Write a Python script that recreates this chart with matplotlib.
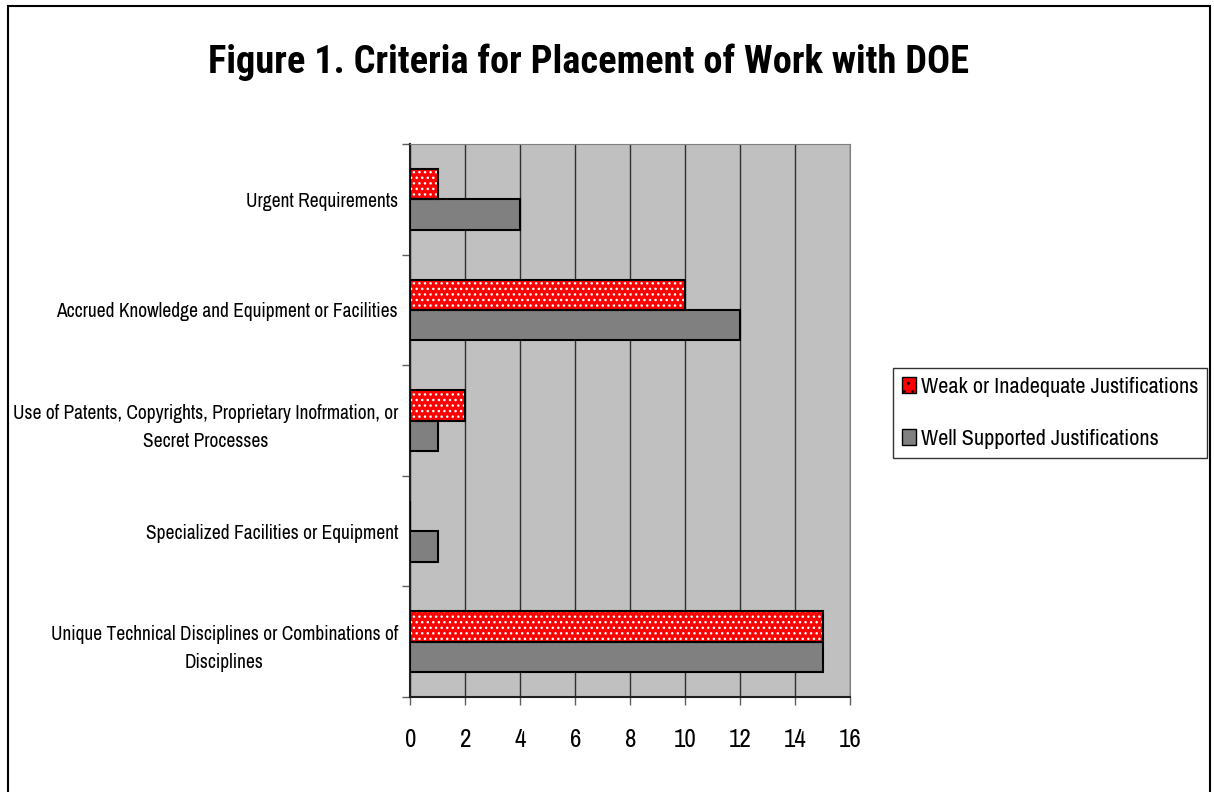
import matplotlib
matplotlib.use("Agg")
import matplotlib.pyplot as plt
import matplotlib.patches as mpatches
import numpy as np

plt.rcParams['font.family'] = ['Archivo Narrow', 'Liberation Sans', 'DejaVu Sans']

# data
categories = [
    "Urgent Requirements",
    "Accrued Knowledge and Equipment or Facilities",
    "Use of Patents, Copyrights, Proprietary Inofrmation, or\nSecret Processes",
    "Specialized Facilities or Equipment",
    "Unique Technical Disciplines or Combinations of\nDisciplines",
]
weak = [1, 10, 2, 0, 15]
well = [4, 12, 1, 1, 15]
series_names = ["Weak or Inadequate Justifications", "Well Supported Justifications"]
x_ticks = list(range(0, 17, 2))

fig = plt.figure(figsize=(12.14, 7.92), dpi=100)
ax = fig.add_axes([0.3381, 0.12, 0.3621, 0.698])

# outer frame around whole chart
fig.patches.append(mpatches.Rectangle((8 / 1214, -0.01), 1202 / 1214, 1 - 6 / 792 + 0.01,
                                      transform=fig.transFigure, fill=False,
                                      edgecolor='black', linewidth=1.5))

ax.set_facecolor('#C0C0C0')
pos = np.arange(1, len(categories) + 1)
h = 0.275

# red bars with white dots (hatch drawn separately, then outline)
ax.barh(pos - h / 2, weak, height=h, color='#FF0000', edgecolor='white',
        hatch='...', linewidth=0, zorder=3)
ax.barh(pos - h / 2, weak, height=h, fill=False, edgecolor='black', linewidth=1.5, zorder=4)
ax.barh(pos + h / 2, well, height=h, color='#808080', edgecolor='black', linewidth=1.5, zorder=3)

ax.set_xlim(0, 16)
ax.set_ylim(5.5, 0.5)
ax.set_xticks(x_ticks)
ax.set_xticklabels([str(t) for t in x_ticks], fontsize=18)
ax.tick_params(axis='x', length=6, width=1, color='#606060', pad=16)
ax.xaxis.grid(True, color='#303030', linewidth=1)
ax.set_axisbelow(True)

ax.set_yticks(np.arange(0.5, 6, 1))
ax.set_yticklabels([])
ax.tick_params(axis='y', which='major', length=6, width=1, color='#606060')
ax.set_yticks(pos, minor=True)
ax.set_yticklabels(categories, minor=True, fontsize=14)
ax.tick_params(axis='y', which='minor', length=0, pad=9)
for lab in ax.get_yticklabels(minor=True):
    lab.set_multialignment('center')
    lab.set_linespacing(1.6)

for s in ['top', 'right']:
    ax.spines[s].set_color('#808080')
ax.spines['left'].set_color('#202020')
ax.spines['bottom'].set_color('#202020')
ax.spines['left'].set_linewidth(1.5)
ax.spines['bottom'].set_linewidth(1.5)

fig.text(0.485, 0.922, "Figure 1. Criteria for Placement of Work with DOE",
         ha='center', va='center', fontsize=27.6, fontweight='bold',
         family=['Roboto Condensed', 'Fira Sans Condensed', 'Archivo Narrow'])

handles = [
    mpatches.Patch(facecolor='#FF0000', edgecolor='black', hatch='..', linewidth=1),
    mpatches.Patch(facecolor='#808080', edgecolor='black', linewidth=1),
]
leg = fig.legend(handles, series_names, loc='center left', bbox_to_anchor=(0.7356, 0.479),
                 fontsize=16, frameon=True, fancybox=False, edgecolor='black',
                 handlelength=0.65, handleheight=0.7, handletextpad=0.2,
                 borderpad=0.4, labelspacing=1.45, borderaxespad=0)
leg.get_frame().set_linewidth(1)

fig.savefig("out.png", dpi=100)
